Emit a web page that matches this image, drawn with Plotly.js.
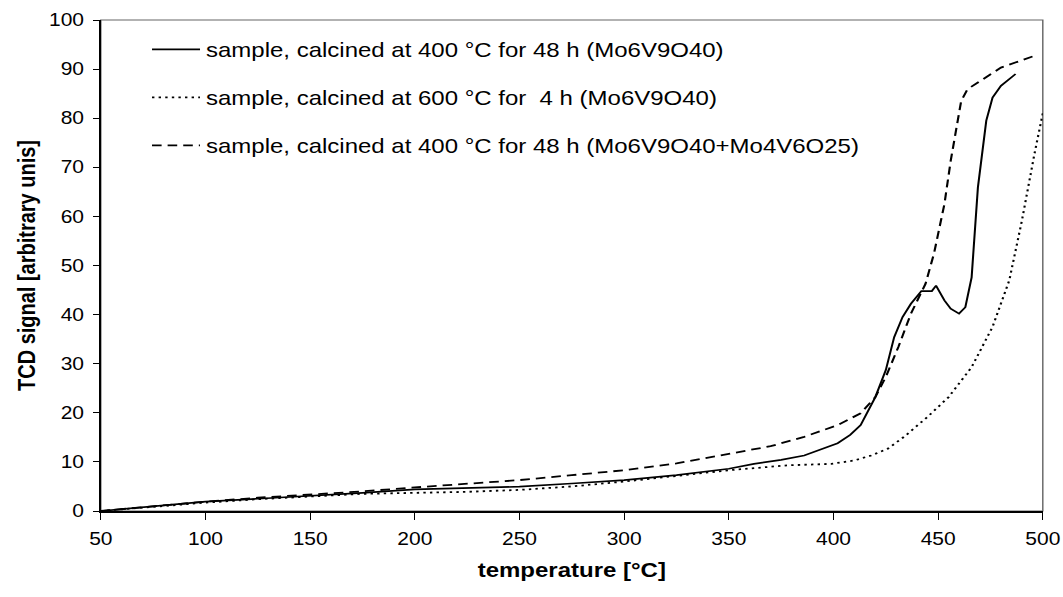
<!DOCTYPE html>
<html>
<head>
<meta charset="utf-8">
<script src="https://cdn.plot.ly/plotly-3.0.1.min.js"></script>
<style>
html,body{margin:0;padding:0;background:#fff;overflow:hidden;}
#chart{width:886px;height:597px;transform:scaleX(1.2);transform-origin:0 0;}
</style>
</head>
<body>
<div id="chart"></div>
<script>
const seriesNames = [
  "sample, calcined at 400 °C for 48 h (Mo6V9O40)",
  "sample, calcined at 600 °C for  4 h (Mo6V9O40)",
  "sample, calcined at 400 °C for 48 h (Mo6V9O40+Mo4V6O25)"
];
const xSolid = [50,75,100,125,150,175,200,225,250,275,300,325,350,362,375,386,394,402,408,413,420,425,429,433,437,442,447,449,453,456,460,463,466,469,473,476,480,487];
const ySolid = [0,1.0,1.9,2.5,3.05,3.7,4.4,4.7,4.95,5.6,6.3,7.3,8.6,9.6,10.4,11.3,12.6,13.8,15.5,17.5,23.2,28.7,35.4,39.5,42.2,44.8,44.8,45.9,42.9,41.2,40.2,41.5,47.6,65.9,79.5,84.2,86.6,89.0];
const xDotted = [50,75,100,125,150,175,200,225,250,275,300,325,350,378,399,410,418,426,434,445,455,466,476,484,490,496,500];
const yDotted = [0,0.9,1.7,2.4,3.0,3.5,3.7,3.9,4.3,5.0,6.0,7.2,8.3,9.3,9.6,10.3,11.3,12.7,15.2,19.2,23.2,29.3,37.5,47.0,59.1,72.7,81];
const xDashed = [50,75,100,125,150,175,200,225,250,275,300,325,346,370,386,402,413,420,425,431,437,444,448,453,456,459,461,464,471,480,496];
const yDashed = [0,1.0,1.9,2.7,3.3,4.0,4.8,5.5,6.3,7.3,8.3,9.7,11.3,13.2,15.1,17.5,19.9,23.2,27.3,33.4,40.2,46.3,52.4,62.5,71.3,78.8,83.5,85.9,87.9,90.3,92.7];
const xTicks = [50,100,150,200,250,300,350,400,450,500];
const yTicks = [0,10,20,30,40,50,60,70,80,90,100];

const traces = [
  {x: xSolid, y: ySolid, name: seriesNames[0], legendgroup: "a", mode: "lines",
   line: {color: "#000", width: 1.7, dash: "solid"}},
  {x: xDotted, y: yDotted, name: seriesNames[1], legendgroup: "b", mode: "lines",
   line: {color: "#000", width: 1.8, dash: "2px,3.5px"}},
  {x: xDashed, y: yDashed, name: seriesNames[2], legendgroup: "c", mode: "lines",
   line: {color: "#000", width: 1.8, dash: "8px,5px"}}
];

const layout = {
  width: 886, height: 597,
  margin: {l: 84, r: 17, t: 20, b: 86},
  paper_bgcolor: "#fff", plot_bgcolor: "#fff",
  font: {family: "Liberation Sans, Arial, sans-serif", color: "#000", size: 17.5},
  showlegend: true,
  legend: {x: 0.048, y: 0.98, xanchor: "left", yanchor: "top",
           bgcolor: "rgba(0,0,0,0)", font: {size: 20}, tracegroupgap: 19,
           itemwidth: 40},
  xaxis: {range: [50, 500], tickvals: xTicks, ticktext: xTicks.map(String),
          showgrid: false, zeroline: false, showline: true, linecolor: "#000", linewidth: 1.5,
          ticks: "outside", ticklen: 7, tickcolor: "#000", tickfont: {size: 17.5},
          ticklabelstandoff: 5,
          title: {text: "<b>temperature [°C]</b>", font: {size: 20}, standoff: 14}},
  yaxis: {range: [0, 100], tickvals: yTicks, ticktext: yTicks.map(String),
          showgrid: false, zeroline: false, showline: true, linecolor: "#000", linewidth: 1.5,
          ticks: "outside", ticklen: 5, tickcolor: "#000", tickfont: {size: 17.5},
          ticklabelstandoff: 4,
          title: {text: "<b>TCD signal [arbitrary unis]</b>", font: {size: 20}, standoff: 5}},
  shapes: [{type: "rect", xref: "x domain", yref: "y domain", x0: 0, x1: 1, y0: 0, y1: 1,
            line: {color: "#666", width: 1.2}, layer: "below"}]
};

Plotly.newPlot("chart", traces, layout, {displayModeBar: false, staticPlot: true});
</script>
</body>
</html>
